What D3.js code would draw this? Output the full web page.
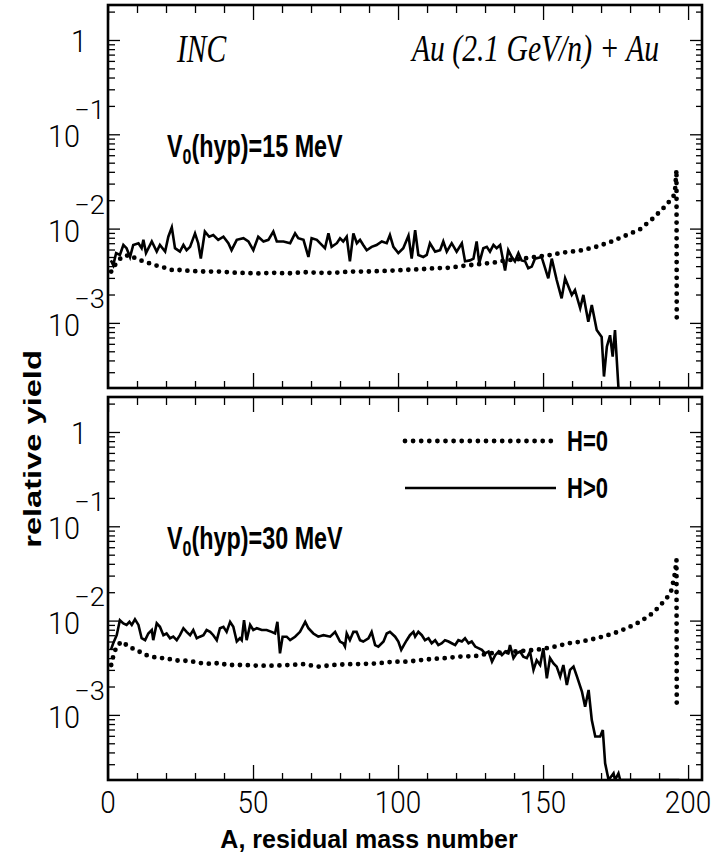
<!DOCTYPE html>
<html>
<head>
<meta charset="utf-8">
<script src="https://cdn.jsdelivr.net/npm/d3@7"></script>
<style>
  body { margin: 0; background: #fff; }
  text { fill: #000; }
</style>
</head>
<body>
<div id="chart"></div>
<script>
// x axis: A, residual mass number
const massTicks = [0, 50, 100, 150, 200];
const massMinor = [10, 20, 30, 40, 60, 70, 80, 90, 110, 120, 130, 140, 160, 170, 180, 190];
// y axis: decade labels (base "10", exponent)
const decades = [1, 0.1, 0.01, 0.001];
const decadeExp = ["", "\u22121", "\u22122", "\u22123"];

// V0(hyp)=15 MeV, H>0 (solid)  [A, relative yield]
const solid15 = [[1,4.6e-3],[1.8,4.1e-3],[2.8,5.5e-3],[4.1,5.25e-3],[5.3,6.7e-3],[6.4,6.2e-3],[7.6,5.0e-3],[8.7,6.7e-3],[10.5,7.0e-3],[11.6,6.2e-3],[12.2,7.6e-3],[13.1,5.5e-3],[15.1,7.3e-3],[16.8,5.7e-3],[17.9,6.7e-3],[19.7,5.7e-3],[20.8,8.2e-3],[22,1.03e-2],[23.1,6.2e-3],[24.8,5.7e-3],[26,6.7e-3],[27.1,5.9e-3],[28.3,6.4e-3],[30,8.9e-3],[31.1,7.0e-3],[32,4.8e-3],[33.4,9.3e-3],[34.9,8.2e-3],[36.3,8.55e-3],[38,7.6e-3],[39.8,8.2e-3],[41.5,7.0e-3],[42.6,5.9e-3],[44.4,7.6e-3],[46.7,7.9e-3],[48.4,7.3e-3],[50.1,5.9e-3],[51.8,8.2e-3],[53.6,7.3e-3],[55.3,7.6e-3],[57,9.3e-3],[58.2,7.3e-3],[60.5,7.3e-3],[62.8,7.0e-3],[64.5,8.9e-3],[65.6,7.9e-3],[67.4,7.6e-3],[69.1,5.0e-3],[70.2,7.9e-3],[72,7.6e-3],[73.1,7.0e-3],[74.8,6.2e-3],[76,8.9e-3],[77.1,6.4e-3],[78.9,7.0e-3],[80,7.9e-3],[81.1,7.3e-3],[82.3,8.2e-3],[83.4,4.5e-3],[84.6,8.9e-3],[85.8,7.0e-3],[86.9,7.6e-3],[88,6.7e-3],[89.2,5.9e-3],[90.9,6.4e-3],[92.6,6.7e-3],[94.4,7.3e-3],[96.1,7.0e-3],[97.2,8.55e-3],[98.4,6.4e-3],[100.1,5.5e-3],[101.8,6.2e-3],[103.6,8.4e-3],[104.7,4.8e-3],[105.9,9.6e-3],[107,5.25e-3],[108.7,5.0e-3],[109.9,5.25e-3],[111,7.0e-3],[112.8,5.7e-3],[114.5,5.9e-3],[115.6,7.3e-3],[116.8,5.7e-3],[118.5,7.0e-3],[120.2,5.7e-3],[122,7.0e-3],[123.1,4.5e-3],[124.8,4.6e-3],[126,4.8e-3],[127.1,7.3e-3],[128,4.3e-3],[129.4,6.2e-3],[130.6,6.4e-3],[131.7,5.7e-3],[132.9,6.7e-3],[134,6.2e-3],[135.2,6.7e-3],[136.9,3.6e-3],[138,5.9e-3],[139.2,5.0e-3],[140.3,4.5e-3],[141.5,5.5e-3],[142.6,4.6e-3],[143.8,4.5e-3],[144.9,3.8e-3],[146.1,3.95e-3],[147.2,4.8e-3],[149.5,5.0e-3],[151.8,2.97e-3],[153,4.8e-3],[154.7,2.85e-3],[156.4,1.82e-3],[157.6,2.97e-3],[159.9,1.98e-3],[161,2.23e-3],[162.8,1.43e-3],[163.9,1.98e-3],[165.6,1.03e-3],[166.8,1.55e-3],[168.5,8.4e-4],[170.2,7.1e-4],[171,2.7e-4],[172,5.6e-4],[173.1,7.4e-4],[174,4.4e-4],[174.8,8.4e-4],[176,1e-5]];

// V0(hyp)=15 MeV, H=0 (dotted)
const dotted15 = [[1.1,3.5e-3],[2.4,4.1e-3],[4.7,5.0e-3],[7.4,5.25e-3],[9.9,4.75e-3],[12.2,4.5e-3],[15.1,4.2e-3],[17.4,4.0e-3],[20.2,3.8e-3],[22.5,3.6e-3],[25.4,3.65e-3],[28.3,3.55e-3],[33.4,3.5e-3],[38.6,3.5e-3],[44.4,3.4e-3],[51.8,3.35e-3],[57,3.4e-3],[62.2,3.35e-3],[67.4,3.45e-3],[73.1,3.4e-3],[78.3,3.4e-3],[83.4,3.5e-3],[89.2,3.5e-3],[94.4,3.55e-3],[99.5,3.6e-3],[102.4,3.65e-3],[107.6,3.7e-3],[112.8,3.8e-3],[118,3.85e-3],[123.1,4.05e-3],[128.3,4.2e-3],[134,4.4e-3],[136.9,4.6e-3],[142,4.75e-3],[147.2,5.0e-3],[152.4,5.25e-3],[157.6,5.6e-3],[162.8,5.85e-3],[167.9,6.35e-3],[173.7,7.3e-3],[178.3,8.4e-3],[183.4,9.8e-3],[188,1.29e-2],[192,1.71e-2],[194.9,2.18e-2],[195.5,2.5e-2],[196,4.2e-2],[196.1,9.5e-4]];

// V0(hyp)=30 MeV, H>0 (solid)
const solid30 = [[1,4.9e-3],[1.8,5.75e-3],[3,7.0e-3],[4.1,1.01e-2],[5.3,9.35e-3],[6.4,9.0e-3],[7.4,9.7e-3],[8.2,9.0e-3],[9.3,1.03e-2],[10.5,9.0e-3],[11.6,6.5e-3],[12.8,6.2e-3],[13.9,7.3e-3],[15.1,7.95e-3],[15.6,6.2e-3],[16.8,9.35e-3],[17.9,8.6e-3],[19.1,7.0e-3],[20.2,7.3e-3],[21.4,6.5e-3],[22.5,6.75e-3],[23.7,6.2e-3],[24.8,7.0e-3],[26,8.3e-3],[27.1,7.6e-3],[28.3,7.0e-3],[29.4,7.95e-3],[30.6,6.5e-3],[31.7,6.75e-3],[32.9,7.0e-3],[34,7.95e-3],[35.2,7.6e-3],[36.3,7.0e-3],[37.5,6.2e-3],[38.6,8.3e-3],[39.8,8.6e-3],[40.9,7.6e-3],[42.1,9.7e-3],[43.2,8.6e-3],[44.4,6.0e-3],[45.5,6.5e-3],[46.1,6.2e-3],[46.9,1.01e-2],[47.8,6.2e-3],[49,9.0e-3],[50.1,7.95e-3],[51.3,8.3e-3],[53,7.95e-3],[54.7,7.95e-3],[56.4,7.6e-3],[57.6,7.3e-3],[58.4,9.7e-3],[59.3,4.5e-3],[60.2,6.75e-3],[61.6,6.75e-3],[62.8,6.2e-3],[64.5,6.75e-3],[66.2,7.6e-3],[68,9.7e-3],[69.1,8.3e-3],[70.8,7.3e-3],[72.5,6.75e-3],[74.3,7.0e-3],[76.6,6.75e-3],[78.3,7.6e-3],[80,6.0e-3],[81.1,5.75e-3],[81.7,5.3e-3],[82.3,7.3e-3],[83.4,6.2e-3],[84.6,7.6e-3],[85.7,7.6e-3],[86.9,6.2e-3],[88,6.0e-3],[89.8,6.5e-3],[90.9,7.6e-3],[92.1,5.5e-3],[93.2,5.3e-3],[95,6.0e-3],[96.1,7.3e-3],[97.2,7.6e-3],[99,6.75e-3],[100.1,6.0e-3],[101.1,4.9e-3],[102,5.5e-3],[103,6.2e-3],[104.1,7.0e-3],[105.3,7.6e-3],[105.9,6.75e-3],[107,7.6e-3],[108.2,7.0e-3],[109.3,6.2e-3],[110.5,6.5e-3],[111.6,5.75e-3],[112.8,6.2e-3],[113.9,5.5e-3],[115.1,5.75e-3],[116.2,6.2e-3],[117.4,6.0e-3],[118.5,5.75e-3],[119.7,5.5e-3],[120.8,6.2e-3],[122,6.0e-3],[123.1,6.5e-3],[124.3,5.75e-3],[125.4,6.0e-3],[126.6,5.3e-3],[127.7,5.1e-3],[128.9,4.9e-3],[130,4.5e-3],[131.2,4.7e-3],[132.4,3.67e-3],[133.5,4.3e-3],[134.7,4.7e-3],[135.8,4.3e-3],[137,4.7e-3],[138,4.5e-3],[138.6,5.5e-3],[139.8,4.0e-3],[140.9,4.5e-3],[142.1,4.7e-3],[143.2,4.15e-3],[144.4,4.0e-3],[145.5,4.7e-3],[146.7,3.0e-3],[147.8,3.8e-3],[149,3.38e-3],[150.1,5.1e-3],[151.3,2.44e-3],[152.4,4.0e-3],[153.6,3.52e-3],[154.7,3.25e-3],[155.9,2.55e-3],[157,3.38e-3],[158.2,2.07e-3],[159.3,3.0e-3],[160.5,3.25e-3],[161.7,2.55e-3],[163.4,1.77e-3],[164.5,1.22e-3],[165.7,1.84e-3],[166.8,8.8e-4],[168,5.9e-4],[169.7,5.9e-4],[170.6,6.9e-4],[171.4,3.07e-4],[172.6,1e-5],[174.3,2.4e-4],[174.8,1e-5],[176,2.4e-4],[176.6,1e-5],[185,1e-5],[197,1e-5]];

// V0(hyp)=30 MeV, H=0 (dotted)
const dotted30 = [[1.1,3.38e-3],[1.9,4.3e-3],[3,5.38e-3],[4.8,6.0e-3],[7.4,5.2e-3],[9.9,4.9e-3],[12.2,4.4e-3],[15.1,4.15e-3],[17.4,4.0e-3],[20.2,4.0e-3],[22.5,3.8e-3],[25.4,3.75e-3],[28.3,3.75e-3],[30.6,3.57e-3],[33.4,3.52e-3],[35.7,3.47e-3],[38.6,3.57e-3],[40.9,3.38e-3],[46.7,3.38e-3],[51.8,3.33e-3],[57,3.33e-3],[62.2,3.38e-3],[67.4,3.45e-3],[72.5,3.25e-3],[77.7,3.38e-3],[82.9,3.45e-3],[88,3.47e-3],[93.2,3.52e-3],[98.4,3.67e-3],[103.6,3.67e-3],[105.9,3.75e-3],[111,3.9e-3],[116.2,4.0e-3],[121.4,4.15e-3],[126.6,4.2e-3],[131.7,4.5e-3],[136.9,4.6e-3],[142.1,4.75e-3],[147.8,4.9e-3],[153,5.2e-3],[158.7,5.75e-3],[163.4,6.0e-3],[168.5,6.5e-3],[174.3,7.3e-3],[178.9,8.3e-3],[183.4,9.7e-3],[188,1.21e-2],[192.6,1.72e-2],[194.3,2.11e-2],[195.5,3.2e-2],[196,4.4e-2],[196.1,1.15e-3]];

const W = 712, H = 862;
const left = 108, right = 702;
const sans = "'Liberation Sans', Arial, sans-serif";
const thin = "Roboto, 'Liberation Sans', sans-serif";

const panels = [
  {top: 5, bottom: 388, solid: solid15, dotted: dotted15, v0: "15", xLabels: false},
  {top: 397, bottom: 780, solid: solid30, dotted: dotted30, v0: "30", xLabels: true}
];

const x = d3.scaleLinear().domain([0, 204.8]).range([left, right]);

const svg = d3.select("#chart").append("svg")
  .attr("width", W)
  .attr("height", H);

function styleTicks(g) {
  g.select(".domain").remove();
  g.selectAll(".tick line").attr("stroke", "#000").attr("stroke-width", 1.3);
  g.selectAll(".tick text").remove();
}

panels.forEach(function(p, i) {
  const y = d3.scaleLog().domain([2.04e-4, 2.35]).range([p.bottom, p.top]).clamp(true);
  const minorY = y.ticks().filter(function(v) { return Math.abs(Math.log10(v) - Math.round(Math.log10(v))) > 1e-6; });

  const g = svg.append("g");

  g.append("clipPath").attr("id", "clip" + i)
    .append("rect")
    .attr("x", left).attr("y", p.top)
    .attr("width", right - left).attr("height", p.bottom - p.top);

  // ticks, all pointing inward
  g.append("g").attr("transform", `translate(${left},0)`)
    .call(d3.axisLeft(y).tickValues(decades).tickSize(-12)).call(styleTicks);
  g.append("g").attr("transform", `translate(${left},0)`)
    .call(d3.axisLeft(y).tickValues(minorY).tickSize(-7)).call(styleTicks);
  g.append("g").attr("transform", `translate(${right},0)`)
    .call(d3.axisRight(y).tickValues(decades).tickSize(-12)).call(styleTicks);
  g.append("g").attr("transform", `translate(${right},0)`)
    .call(d3.axisRight(y).tickValues(minorY).tickSize(-6)).call(styleTicks);
  g.append("g").attr("transform", `translate(0,${p.bottom})`)
    .call(d3.axisBottom(x).tickValues(massTicks).tickSize(-15)).call(styleTicks);
  g.append("g").attr("transform", `translate(0,${p.bottom})`)
    .call(d3.axisBottom(x).tickValues(massMinor).tickSize(-7)).call(styleTicks);
  g.append("g").attr("transform", `translate(0,${p.top})`)
    .call(d3.axisTop(x).tickValues(massTicks).tickSize(-15)).call(styleTicks);
  g.append("g").attr("transform", `translate(0,${p.top})`)
    .call(d3.axisTop(x).tickValues(massMinor).tickSize(-8)).call(styleTicks);

  const line = d3.line()
    .x(function(d) { return x(d[0]); })
    .y(function(d) { return y(d[1]); });

  g.append("path")
    .datum(p.dotted)
    .attr("clip-path", `url(#clip${i})`)
    .attr("fill", "none")
    .attr("stroke", "#000")
    .attr("stroke-width", 4.8)
    .attr("stroke-linecap", "round")
    .attr("stroke-dasharray", "0 7.9")
    .attr("d", line);

  g.append("path")
    .datum(p.solid)
    .attr("clip-path", `url(#clip${i})`)
    .attr("fill", "none")
    .attr("stroke", "#000")
    .attr("stroke-width", 2.6)
    .attr("d", line);

  // frame
  g.append("rect")
    .attr("x", left).attr("y", p.top)
    .attr("width", right - left).attr("height", p.bottom - p.top)
    .attr("fill", "none")
    .attr("stroke", "#000")
    .attr("stroke-width", 2.6);

  // y tick labels
  decades.forEach(function(v, k) {
    const ty = y(v);
    if (k === 0) {
      g.append("text")
        .attr("transform", `translate(87,${ty + 12}) scale(0.9,1)`)
        .attr("text-anchor", "end")
        .style("font-family", thin).style("font-weight", 300).style("font-size", "32px")
        .text("1");
    } else {
      g.append("text")
        .attr("transform", `translate(80,${ty + 13}) scale(0.9,1)`)
        .attr("text-anchor", "end")
        .style("font-family", thin).style("font-weight", 300).style("font-size", "32px")
        .text("10");
      g.append("text")
        .attr("transform", `translate(105,${ty - 15}) scale(1.05,1)`)
        .attr("text-anchor", "end")
        .style("font-family", thin).style("font-weight", 300).style("font-size", "26px")
        .text(decadeExp[k]);
    }
  });

  if (p.xLabels) {
    massTicks.forEach(function(m) {
      g.append("text")
        .attr("transform", `translate(${x(m)},813) scale(0.9,1)`)
        .attr("text-anchor", "middle")
        .style("font-family", thin).style("font-weight", 300).style("font-size", "31px")
        .text(m);
    });
  }

  // V0(hyp) label
  const v0 = g.append("text")
    .attr("transform", `translate(167,${p.top + 152}) scale(0.73,1)`)
    .style("font-family", sans).style("font-weight", "bold").style("font-size", "32px");
  v0.append("tspan").text("V");
  v0.append("tspan").attr("dy", 7).style("font-size", "22px").text("0");
  v0.append("tspan").attr("dy", -7).text("(hyp)=" + p.v0 + " MeV");
});

// header texts of the upper panel
svg.append("text")
  .attr("transform", "translate(177,62) scale(0.74,1)")
  .style("font-family", "'Liberation Serif', 'Times New Roman', serif")
  .style("font-style", "italic").style("font-size", "40px")
  .text("INC");
svg.append("text")
  .attr("transform", "translate(412,61) scale(0.8,1)")
  .style("font-family", "'Liberation Serif', 'Times New Roman', serif")
  .style("font-style", "italic").style("font-size", "37px")
  .text("Au (2.1 GeV/n) + Au");

// legend in the lower panel
const legend = [
  {label: "H=0", y: 441, dotted: true},
  {label: "H>0", y: 488, dotted: false}
];
legend.forEach(function(l) {
  svg.append("line")
    .attr("x1", 405).attr("x2", l.dotted ? 552 : 556)
    .attr("y1", l.y).attr("y2", l.y)
    .attr("stroke", "#000")
    .attr("stroke-width", l.dotted ? 4.8 : 2.6)
    .attr("stroke-linecap", l.dotted ? "round" : "butt")
    .attr("stroke-dasharray", l.dotted ? "0 8.1" : null);
  svg.append("text")
    .attr("transform", `translate(567,${l.y + 10}) scale(0.76,1)`)
    .style("font-family", sans).style("font-weight", "bold").style("font-size", "29px")
    .text(l.label);
});

// axis titles
svg.append("text")
  .attr("transform", "translate(41,449) rotate(-90) scale(1.36,1)")
  .attr("text-anchor", "middle")
  .style("font-family", sans).style("font-weight", "bold").style("font-size", "24px")
  .text("relative yield");
svg.append("text")
  .attr("transform", "translate(369,848)")
  .attr("text-anchor", "middle")
  .style("font-family", sans).style("font-weight", "bold").style("font-size", "25px")
  .text("A, residual mass number");
</script>
</body>
</html>
